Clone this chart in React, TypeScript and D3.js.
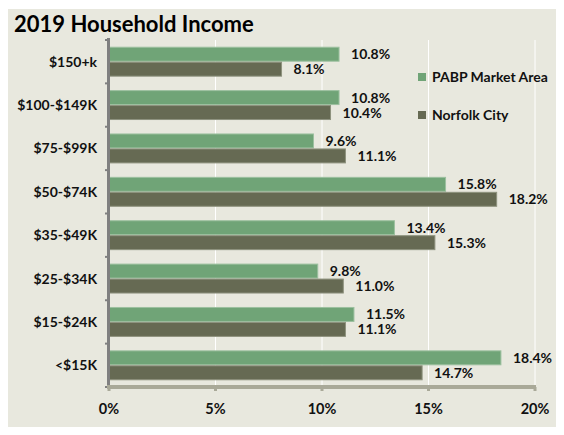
import React from "react";
import * as d3 from "d3";

const categories = ["$150+k", "$100-$149K", "$75-$99K", "$50-$74K", "$35-$49K", "$25-$34K", "$15-$24K", "<$15K"];
const pabpValues = [10.8, 10.8, 9.6, 15.8, 13.4, 9.8, 11.5, 18.4];
const norfolkValues = [8.1, 10.4, 11.1, 18.2, 15.3, 11.0, 11.1, 14.7];
const seriesNames = ["PABP Market Area", "Norfolk City"];
const xTicks = [0, 5, 10, 15, 20];
const title = "2019 Household Income";

const W = 564;
const H = 435;
const FONT = "Lato, 'Open Sans', sans-serif";
const GREEN = "#70A477";
const GRAY = "#666A53";

export default function App() {
  const x = d3.scaleLinear().domain([0, 20]).range([109, 535]);
  const y = d3.scaleBand<string>().domain(categories).range([40, 387]).paddingInner(0.31).paddingOuter(0.155);
  const bh = y.bandwidth() / 2;
  const series = [
    { name: seriesNames[0], values: pabpValues, color: GREEN, stroke: "#9CC09F" },
    { name: seriesNames[1], values: norfolkValues, color: GRAY, stroke: "#8E927E" },
  ];
  const bandStep = (387 - 40) / categories.length;
  return (
    <div style={{ margin: -8, width: W, height: H }}>
      <svg width={W} height={H} style={{ display: "block" }} fontFamily={FONT}>
        <rect x={0} y={0} width={W} height={H} fill="#FFFFFF" />
        <rect x={2} y={9} width={W - 2} height={H - 9} fill="#E8E8DE" />
        <text x={14} y={32} fontSize={22} fontWeight={700} fill="#000">{title}</text>
        {/* gridlines */}
        {xTicks.slice(1).map((t) => (
          <line key={t} x1={x(t)} x2={x(t)} y1={40} y2={387} stroke="#FFFFFF" strokeWidth={1} />
        ))}
        {/* bars */}
        {categories.map((c, i) =>
          series.map((s, j) => {
            const y0 = (y(c) as number) + j * bh;
            const v = s.values[i];
            return (
              <g key={c + j}>
                <rect x={x(0)} y={y0 + 0.5} width={x(v) - x(0)} height={bh - 1} fill={s.color} stroke={s.stroke} strokeWidth={1} />
                <text x={x(v) + 12} y={y0 + bh / 2} dy="0.36em" fontSize={14} fontWeight={700} fill="#111">
                  {v.toFixed(1) + "%"}
                </text>
              </g>
            );
          })
        )}
        {/* category labels */}
        {categories.map((c) => (
          <text key={c} x={97} y={(y(c) as number) + y.bandwidth() / 2} dy="0.36em" textAnchor="end" fontSize={14} fontWeight={700} fill="#111">
            {c}
          </text>
        ))}
        {/* left axis */}
        <line x1={108.5} x2={108.5} y1={38} y2={388} stroke="#808080" strokeWidth={3} />
        {d3.range(categories.length + 1).map((k) => (
          <line key={k} x1={105} x2={108} y1={40 + k * bandStep} y2={40 + k * bandStep} stroke="#808080" strokeWidth={2} />
        ))}
        {/* bottom axis */}
        <line x1={107} x2={536} y1={387} y2={387} stroke="#A9A998" strokeWidth={4} />
        {xTicks.map((t) => (
          <g key={t}>
            <line x1={x(t)} x2={x(t)} y1={387} y2={391} stroke="#A9A998" strokeWidth={3} />
            <text x={x(t)} y={409} dy="0.36em" textAnchor="middle" fontSize={14.5} fontWeight={700} fill="#111">
              {t + "%"}
            </text>
          </g>
        ))}
        {/* legend */}
        {series.map((s, j) => (
          <g key={s.name} transform={`translate(418, ${73 + j * 38})`}>
            <rect x={0} y={0} width={8} height={8} fill={s.color} />
            <text x={14} y={4} dy="0.36em" fontSize={14} fontWeight={700} fill="#111">{s.name}</text>
          </g>
        ))}
      </svg>
    </div>
  );
}
